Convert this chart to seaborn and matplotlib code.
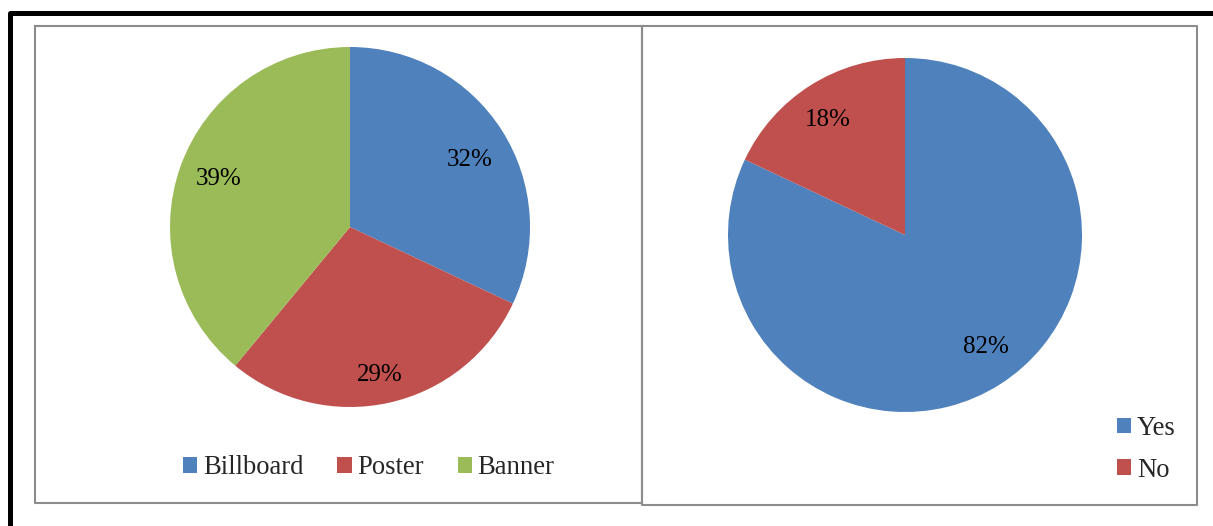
import matplotlib
matplotlib.use("Agg")
import matplotlib.pyplot as plt
from matplotlib.lines import Line2D
import numpy as np
import seaborn as sns

# ---- data ----
media_labels = ["Billboard", "Poster", "Banner"]
media_values = [32, 29, 39]
answer_labels = ["Yes", "No"]
answer_values = [82, 18]

colors_media = sns.color_palette(["#4F81BD", "#C0504D", "#9BBB59"])
colors_answer = sns.color_palette(["#4F81BD", "#C0504D"])

sns.set_style("white")
plt.rcParams["font.family"] = ["Liberation Serif", "DejaVu Serif"]

W, H = 1213, 526
fig = plt.figure(figsize=(W / 100, H / 100), dpi=100)
fig.patch.set_facecolor("white")


def px_rect(x0, y0, x1, y1):
    return [x0 / W, (H - y1) / H, (x1 - x0) / W, (y1 - y0) / H]


def fig_line(xs, ys, color, lw):
    fig.add_artist(Line2D([x / W for x in xs], [(H - y) / H for y in ys],
                          color=color, lw=lw, transform=fig.transFigure,
                          solid_capstyle="projecting"))


def place_labels(wedges, texts, dists, dangs, dy):
    for w, t, d, da in zip(wedges, texts, dists, dangs):
        ang = np.deg2rad((w.theta1 + w.theta2) / 2 + da)
        t.set_position((d * np.cos(ang), d * np.sin(ang) + dy))


# outer black frame (left and top)
fig_line([9.5, 9.5, 1213], [526, 12.5, 12.5], "black", 3.6)

# panel frames
fig_line([34.5, 642.5, 642.5, 34.5, 34.5], [25.5, 25.5, 502.5, 502.5, 25.5], "#8c8c8c", 1.5)
fig_line([642.5, 1196.5, 1196.5, 642.5, 642.5], [25.5, 25.5, 504.5, 504.5, 25.5], "#8c8c8c", 1.5)

# left pie
cx, cy, r = 350, 227, 180
ax1 = fig.add_axes(px_rect(cx - r, cy - r, cx + r, cy + r))
wedges1, _, autot1 = ax1.pie(media_values, colors=colors_media, startangle=90,
                             counterclock=False, radius=1, autopct="%.0f%%",
                             wedgeprops=dict(linewidth=0),
                             textprops=dict(fontsize=18, color="black"))
place_labels(wedges1, autot1, [0.765, 0.83, 0.78], [-2.5, -1.0, -1.0], -0.009)
ax1.set_xlim(-1, 1)
ax1.set_ylim(-1, 1)
ax1.axis("off")

# right pie
cx2, cy2, r2 = 905, 235, 177
ax2 = fig.add_axes(px_rect(cx2 - r2, cy2 - r2, cx2 + r2, cy2 + r2))
wedges2, _, autot2 = ax2.pie(answer_values, colors=colors_answer, startangle=90,
                             counterclock=False, radius=1, autopct="%.0f%%",
                             wedgeprops=dict(linewidth=0),
                             textprops=dict(fontsize=18, color="black"))
place_labels(wedges2, autot2, [0.775, 0.79], [4.0, 1.0], -0.01)
ax2.set_xlim(-1, 1)
ax2.set_ylim(-1, 1)
ax2.axis("off")

# legends
fig.legend(wedges1, media_labels, loc="center left",
           bbox_to_anchor=(183 / W, (H - 468) / H), ncol=3, frameon=False,
           fontsize=19.2, handlelength=0.53, handleheight=0.53,
           handletextpad=0.22, columnspacing=1.27, borderpad=0,
           borderaxespad=0)
fig.legend(wedges2, answer_labels, loc="upper left",
           bbox_to_anchor=(1117 / W, (H - 416) / H), ncol=1, frameon=False,
           fontsize=19.2, handlelength=0.53, handleheight=0.53,
           handletextpad=0.22, labelspacing=0.62, borderpad=0,
           borderaxespad=0)

fig.savefig("out.png", dpi=100, facecolor="white")
